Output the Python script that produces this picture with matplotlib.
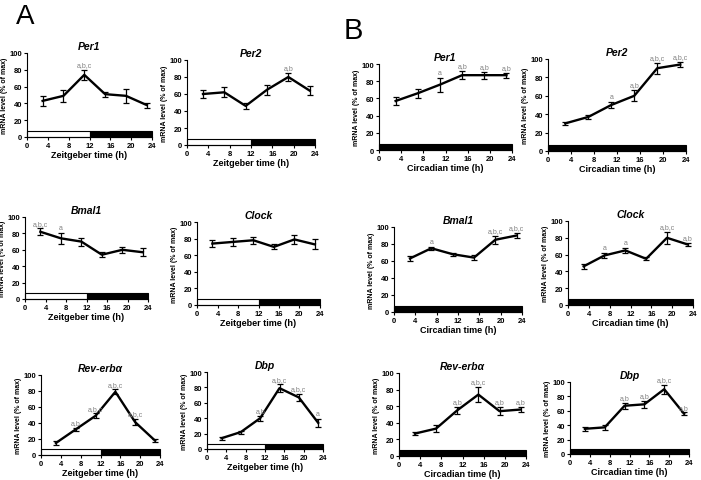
import matplotlib
matplotlib.use('Agg')
import matplotlib.pyplot as plt
from matplotlib.patches import Rectangle

plt.rcParams['font.family'] = ['Liberation Sans', 'DejaVu Sans']

# %% data
times = [3, 7, 11, 15, 19, 23]

a_per1 = [43, 49, 74, 51, 49, 38]
a_per1_err = [6, 7, 6, 3, 8, 3]
a_per1_sig = ['', '', 'a,b,c', '', '', '']

a_per2 = [60, 62, 46, 65, 80, 64]
a_per2_err = [5, 6, 4, 6, 5, 5]
a_per2_sig = ['', '', '', '', 'a,b', '']

b_per1 = [57, 66, 76, 87, 87, 87]
b_per1_err = [5, 5, 8, 5, 4, 3]
b_per1_sig = ['', '', 'a', 'a,b', 'a,b', 'a,b']

b_per2 = [30, 37, 50, 60, 90, 94]
b_per2_err = [2, 2, 3, 6, 6, 3]
b_per2_sig = ['', '', 'a', 'a,b', 'a,b,c', 'a,b,c']

a_bmal1 = [82, 74, 70, 54, 60, 57]
a_bmal1_err = [4, 7, 5, 3, 4, 5]
a_bmal1_sig = ['a,b,c', 'a', '', '', '', '']

a_clock = [74, 76, 78, 70, 79, 73]
a_clock_err = [4, 5, 4, 3, 5, 6]
a_clock_sig = ['', '', '', '', '', '']

b_bmal1 = [63, 75, 68, 64, 85, 90]
b_bmal1_err = [3, 2, 2, 3, 5, 3]
b_bmal1_sig = ['', 'a', '', '', 'a,b,c', 'a,b,c']

b_clock = [46, 59, 65, 55, 80, 72]
b_clock_err = [3, 3, 3, 2, 7, 2]
b_clock_sig = ['', 'a', 'a', '', 'a,b,c', 'a,b']

a_rev = [15, 32, 49, 79, 41, 18]
a_rev_err = [2, 2, 3, 3, 4, 2]
a_rev_sig = ['', 'a,b', 'a,b,c', 'a,b,c', 'a,b,c', '']

a_dbp = [14, 22, 40, 79, 67, 34]
a_dbp_err = [2, 2, 3, 5, 5, 5]
a_dbp_sig = ['', '', 'a,b', 'a,b,c', 'a,b,c', 'a']

b_rev = [27, 33, 55, 74, 54, 56]
b_rev_err = [2, 4, 4, 9, 5, 3]
b_rev_sig = ['', '', 'a,b', 'a,b,c', 'a,b', 'a,b']

b_dbp = [35, 37, 67, 69, 90, 56]
b_dbp_err = [3, 3, 4, 5, 6, 2]
b_dbp_sig = ['', '', 'a,b', 'a,b', 'a,b,c', 'a,b']

W, H = 701, 481

# (title, values, errors, labels, zeitgeber?, pixel box x0, x24, ytop, ybottom)
panels = [
    ('Per1', a_per1, a_per1_err, a_per1_sig, True, (27, 152, 54, 138)),
    ('Per2', a_per2, a_per2_err, a_per2_sig, True, (187, 315, 61, 146)),
    ('Per1', b_per1, b_per1_err, b_per1_sig, False, (379, 512, 65, 151)),
    ('Per2', b_per2, b_per2_err, b_per2_sig, False, (548, 686, 60, 152)),
    ('Bmal1', a_bmal1, a_bmal1_err, a_bmal1_sig, True, (25, 148, 218, 300)),
    ('Clock', a_clock, a_clock_err, a_clock_sig, True, (197, 320, 223, 306)),
    ('Bmal1', b_bmal1, b_bmal1_err, b_bmal1_sig, False, (394, 522, 228, 313)),
    ('Clock', b_clock, b_clock_err, b_clock_sig, False, (568, 693, 222, 306)),
    ('Rev-erbα', a_rev, a_rev_err, a_rev_sig, True, (41, 160, 376, 456)),
    ('Dbp', a_dbp, a_dbp_err, a_dbp_sig, True, (207, 323, 373, 450)),
    ('Rev-erbα', b_rev, b_rev_err, b_rev_sig, False, (399, 526, 374, 457)),
    ('Dbp', b_dbp, b_dbp_err, b_dbp_sig, False, (570, 689, 383, 455)),
]

fig = plt.figure(figsize=(W / 100, H / 100), dpi=100)

for title, vals, errs, sig, zt, box in panels:
    x0, x1, yt, yb = box
    ax = fig.add_axes([x0 / W, 1 - yb / H, (x1 - x0) / W, (yb - yt) / H])
    ax.errorbar(times, vals, yerr=errs, color='black', lw=1.7, capsize=2,
                elinewidth=0.9, capthick=0.9)
    for t, v, e, s in zip(times, vals, errs, sig):
        if s:
            ax.text(t, v + e + 2, s, ha='center', va='bottom', fontsize=5,
                    color='#808080')
    # light/dark bar
    if zt:
        ax.add_patch(Rectangle((0, 0), 12, 7, facecolor='white',
                               edgecolor='black', lw=0.8, clip_on=False))
        ax.add_patch(Rectangle((12, 0), 12, 7, facecolor='black',
                               edgecolor='black', lw=0.8, clip_on=False))
    else:
        ax.add_patch(Rectangle((0, 0), 24, 7, facecolor='black',
                               edgecolor='black', lw=0.8, clip_on=False))
    ax.set_xlim(0, 24)
    ax.set_ylim(0, 100)
    ax.set_xticks(range(0, 25, 4))
    ax.set_yticks(range(0, 101, 20))
    ax.spines['top'].set_visible(False)
    ax.spines['right'].set_visible(False)
    ax.tick_params(direction='out', length=2.5, width=0.8, labelsize=5.5, pad=1)
    for lab in ax.get_xticklabels() + ax.get_yticklabels():
        lab.set_fontweight('bold')
    ax.set_title(title, fontsize=7.5, fontweight='bold', style='italic', pad=3)
    ax.set_ylabel('mRNA level (% of max)', fontsize=5, fontweight='bold',
                  labelpad=1)
    ax.set_xlabel('Zeitgeber time (h)' if zt else 'Circadian time (h)',
                  fontsize=6.5, fontweight='bold', labelpad=1)

fig.text(16 / W, 1 - 17 / H, 'A', fontsize=20, va='center', ha='left')
fig.text(344 / W, 1 - 31 / H, 'B', fontsize=21, va='center', ha='left')

fig.savefig('out.png', dpi=100)
